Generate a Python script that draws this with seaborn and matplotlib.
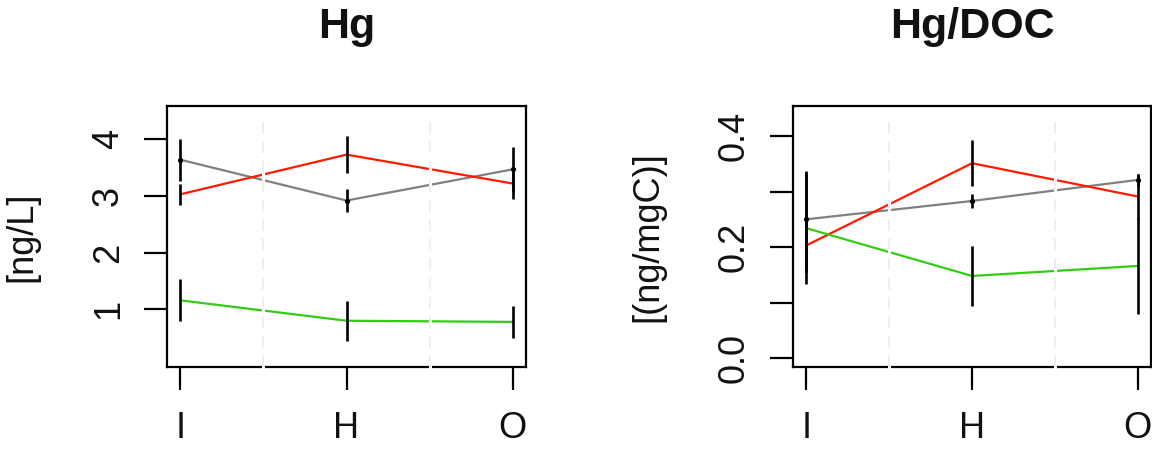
import numpy as np
import pandas as pd
import matplotlib
matplotlib.use("Agg")
import matplotlib.pyplot as plt
import seaborn as sns

# Sampling zones along the transect
categories = ["I", "H", "O"]
series_order = ["grey", "red", "green"]
series_colors = {"grey": "#808080", "red": "#ff1a00", "green": "#33cc11"}

# Total mercury [ng/L]: means and half-widths of the error bars
hg_grey = [3.64, 2.92, 3.47]
hg_grey_err = [0.37, 0.21, 0.40]
hg_red = [3.03, 3.73, 3.22]
hg_red_err = [0.19, 0.32, 0.28]
hg_green = [1.16, 0.80, 0.78]
hg_green_err = [0.37, 0.35, 0.28]

# Mercury normalised to DOC [(ng/mgC)]
doc_grey = [0.250, 0.283, 0.321]
doc_grey_err = [0.087, 0.012, 0.011]
doc_red = [0.203, 0.351, 0.291]
doc_red_err = [0.050, 0.041, 0.040]
doc_green = [0.234, 0.148, 0.166]
doc_green_err = [0.100, 0.054, 0.086]

hg_ticks = [1, 2, 3, 4]
doc_ticks = [0.0, 0.1, 0.2, 0.3, 0.4]
doc_ticklabels = ["0.0", "", "0.2", "", "0.4"]


def long_frame(values, errors):
    rows = []
    for name in series_order:
        for i, cat in enumerate(categories):
            rows.append({"series": name, "zone": cat, "pos": i + 1,
                         "value": values[name][i], "err": errors[name][i]})
    return pd.DataFrame(rows)


hg_df = long_frame({"grey": hg_grey, "red": hg_red, "green": hg_green},
                   {"grey": hg_grey_err, "red": hg_red_err, "green": hg_green_err})
doc_df = long_frame({"grey": doc_grey, "red": doc_red, "green": doc_green},
                    {"grey": doc_grey_err, "red": doc_red_err, "green": doc_green_err})

sns.set_theme(style="white")
plt.rcParams["font.family"] = ["Liberation Sans", "DejaVu Sans"]

fig = plt.figure(figsize=(11.52, 4.5), dpi=100)
ax_hg = fig.add_axes([0.145, 0.1844, 0.3116, 0.58])
ax_doc = fig.add_axes([0.6884, 0.1844, 0.3108, 0.58])


def draw_panel(ax, df, title, ylabel, ylim, yticks, yticklabels):
    sns.lineplot(data=df, x="pos", y="value", hue="series", hue_order=series_order,
                 palette=series_colors, estimator=None, errorbar=None, sort=False,
                 legend=False, linewidth=1.6, ax=ax, zorder=2)
    ax.vlines(df["pos"], df["value"] - df["err"], df["value"] + df["err"],
              colors="black", linewidth=1.9, zorder=3)
    grey = df[df["series"] == "grey"]
    sns.scatterplot(data=grey, x="pos", y="value", color="black", s=14,
                    linewidth=0, ax=ax, zorder=4, legend=False)

    ax.set_xlim(0.92, 3.08)
    ax.set_ylim(*ylim)
    ax.set_xticks(range(1, len(categories) + 1))
    ax.set_xticklabels(categories)
    ax.set_yticks(yticks)
    ax.set_yticklabels(yticklabels)

    # faint dashed separators between zones, painted over the data
    for xv in (1.5, 2.5):
        ax.axvline(xv, ymin=-0.01, ymax=0.965, color="white", linewidth=2.2,
                   zorder=6, clip_on=False)
        ax.axvline(xv, ymin=0.0, ymax=0.965, color="#efefef", linewidth=1.4,
                   linestyle=(0, (6, 4)), zorder=7)

    for sp in ax.spines.values():
        sp.set_visible(True)
        sp.set_color("black")
        sp.set_linewidth(1.6)
        sp.set_zorder(5)

    ax.tick_params(axis="both", which="major", direction="out", length=16.5,
                   width=1.6, color="black", labelsize=26, labelcolor="#111111",
                   bottom=True, left=True)
    ax.tick_params(axis="x", pad=15)
    ax.tick_params(axis="y", pad=13, labelrotation=90)
    for lab in ax.get_yticklabels():
        lab.set_verticalalignment("center")

    ax.set_xlabel("")
    ax.set_ylabel(ylabel, fontsize=26, color="#111111", va="center")
    ax.yaxis.set_label_coords(-0.405, 0.5)
    ax.set_title(title, fontsize=31, fontweight="bold", color="#111111", pad=49)


draw_panel(ax_hg, hg_df, "Hg", "[ng/L]", (-0.016, 4.587), hg_ticks,
           [str(t) for t in hg_ticks])
draw_panel(ax_doc, doc_df, "Hg/DOC", "[(ng/mgC)]", (-0.016, 0.454), doc_ticks,
           doc_ticklabels)

fig.savefig("out.png", dpi=100, facecolor="white")
